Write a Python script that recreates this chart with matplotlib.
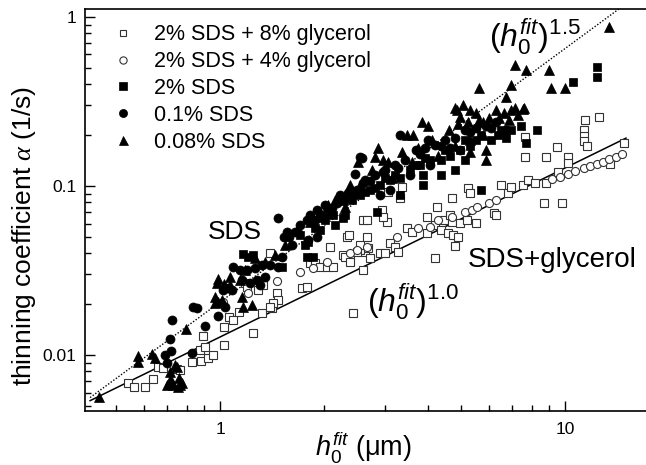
import matplotlib
matplotlib.use("Agg")
import matplotlib.pyplot as plt
import numpy as np

plt.rcParams['font.family'] = ['Liberation Sans', 'DejaVu Sans']
plt.rcParams['mathtext.fontset'] = 'custom'
plt.rcParams['mathtext.rm'] = 'Liberation Sans'
plt.rcParams['mathtext.it'] = 'Liberation Sans:italic'
plt.rcParams['mathtext.cal'] = 'Liberation Serif:italic'

# ---------------- data ----------------
labels = ["2% SDS + 8% glycerol", "2% SDS + 4% glycerol", "2% SDS", "0.1% SDS", "0.08% SDS"]

sq8_x = [0.541, 0.563, 0.606, 0.64, 0.661, 0.684, 0.751, 0.766, 0.83, 0.881, 0.923, 0.954, 0.875, 0.905,
         0.893, 1.027, 1.027, 1.062, 1.091, 1.135, 1.182, 1.246, 1.324, 1.415, 2.43, 1.396, 1.332, 1.289,
         1.197, 1.463, 1.473, 1.425, 1.729, 1.788, 1.824, 1.886, 1.95, 2.042, 2.125, 2.084, 2.334, 2.6,
         2.67, 2.633, 2.547, 2.272, 2.382, 1.396, 3.973, 4.201, 4.439, 4.705, 4.963, 5.206, 3.478, 3.594,
         3.973, 4.354, 4.561, 4.737, 4.898, 3.051, 2.366, 2.67, 2.547, 2.687, 2.495, 2.303, 2.382, 2.724,
         2.913, 3.011, 3.112, 3.216, 3.28, 4.201, 4.8, 2.6, 3.366, 3.323, 3.071, 4.705, 4.258, 5.241,
         5.313, 6.507, 6.827, 6.202, 4.642, 2.95, 2.97, 11.4, 12.5, 11.3, 11.3, 11.3, 11.6, 7.669, 9.48,
         7.669, 8.812, 10.2, 10.2, 13.5, 14.8, 6.968, 7.542, 7.796, 8.166, 8.812, 9.55, 8.652, 9.8,
         6.288, 5.499]
sq8_y = [0.00683, 0.00647, 0.00647, 0.00723, 0.00849, 0.00838, 0.00826, 0.00815, 0.0091, 0.00921, 0.0096,
         0.01, 0.0107, 0.0111, 0.0129, 0.0115, 0.0147, 0.0168, 0.0161, 0.018, 0.0267, 0.0135, 0.0177,
         0.019, 0.0177, 0.0401, 0.0259, 0.0242, 0.0252, 0.0233, 0.0211, 0.0203, 0.0248, 0.0252, 0.035,
         0.035, 0.0332, 0.0332, 0.0332, 0.0436, 0.0499, 0.0629, 0.0629, 0.0407, 0.0418, 0.0391, 0.0391,
         0.0192, 0.0656, 0.0588, 0.0629, 0.0612, 0.0604, 0.0629, 0.0564, 0.0535, 0.0527, 0.0549, 0.0527,
         0.0513, 0.0499, 0.0612, 0.0513, 0.0499, 0.0448, 0.043, 0.0407, 0.038, 0.0355, 0.0375, 0.0401,
         0.0401, 0.046, 0.0436, 0.0407, 0.0375, 0.0442, 0.0318, 0.0986, 0.0849, 0.0921, 0.0849, 0.0751,
         0.0973, 0.091, 0.101, 0.091, 0.0692, 0.0673, 0.0722, 0.0656, 0.246, 0.256, 0.215, 0.198, 0.185,
         0.172, 0.195, 0.17, 0.149, 0.149, 0.149, 0.137, 0.135, 0.18, 0.0986, 0.101, 0.109, 0.104, 0.104,
         0.121, 0.0793, 0.0793, 0.0673, 0.0604]

ci4_x = [1.02, 1.205, 1.463, 1.706, 1.861, 2.042, 2.382, 2.495, 2.67, 3.257, 3.741, 4.053, 4.29, 4.705,
         5.136, 5.386, 5.56, 5.998, 6.288, 9.18, 9.66, 10.2, 10.7, 11.3, 11.8, 12.4, 12.9, 13.4, 14.0, 14.6]
ci4_y = [0.0206, 0.0233, 0.0274, 0.031, 0.0327, 0.0355, 0.0401, 0.0418, 0.0436, 0.0499, 0.0564, 0.0572,
         0.0629, 0.0656, 0.0702, 0.0722, 0.0751, 0.0793, 0.0826, 0.11, 0.113, 0.118, 0.123, 0.128, 0.131,
         0.135, 0.139, 0.145, 0.149, 0.155]

fsq_x = [12.4, 12.4, 10.5, 8.261, 7.709, 6.734, 6.374, 3.868, 3.868, 3.323, 5.685, 2.855, 1.166, 1.205,
         1.246, 1.513, 1.788, 1.861, 1.8, 2.084, 2.125, 2.272, 1.95, 2.547, 2.724, 2.913, 3.112, 3.216,
         3.546, 3.791, 4.053, 4.354, 4.642, 4.963, 5.313, 5.499, 6.08, 6.507, 6.968, 7.46, 2.303, 2.155,
         1.95, 1.764, 4.354, 4.8, 5.136, 1.706, 1.886, 2.015, 2.414, 2.633, 2.816, 3.011, 3.323, 3.69,
         3.92, 4.49, 5.685, 5.136]
fsq_y = [0.506, 0.441, 0.412, 0.215, 0.18, 0.192, 0.2, 0.116, 0.101, 0.0885, 0.0947, 0.0702, 0.0396,
         0.038, 0.0391, 0.0332, 0.038, 0.038, 0.0466, 0.0702, 0.0673, 0.0647, 0.0647, 0.0885, 0.0947,
         0.101, 0.109, 0.116, 0.125, 0.133, 0.143, 0.143, 0.151, 0.163, 0.172, 0.187, 0.187, 0.215, 0.215,
         0.227, 0.0673, 0.0588, 0.0549, 0.0448, 0.116, 0.125, 0.143, 0.0513, 0.0564, 0.0629, 0.0826,
         0.0921, 0.0973, 0.112, 0.112, 0.133, 0.147, 0.163, 0.2, 0.187]

fci_x = [0.726, 0.835, 0.856, 0.716, 0.693, 0.721, 0.702, 0.905, 0.83, 0.987, 1.02, 1.083, 1.143, 1.034,
         1.055, 2.547, 2.461, 2.6, 2.495, 2.35, 2.287, 2.182, 2.111, 2.055, 1.911, 1.824, 1.788, 1.473,
         1.564, 1.533, 1.585, 1.617, 1.8, 1.911, 1.513, 1.396, 1.473, 1.324, 1.263, 1.197, 1.091, 1.158,
         1.222, 1.28, 1.35, 1.306, 2.582, 3.323, 3.999, 1.706, 1.886, 2.015, 2.227, 2.633, 2.816, 3.011,
         3.216, 3.432, 3.69, 3.92, 4.201, 4.49, 4.8, 5.136, 5.499, 5.879, 6.288, 2.913, 3.112, 3.546,
         4.053, 4.963, 1.649, 1.98, 2.43, 2.724, 2.97, 3.28, 3.791, 4.354, 4.642, 5.313, 6.08, 6.734]
fci_y = [0.0161, 0.0192, 0.019, 0.0124, 0.01, 0.0106, 0.00897, 0.0148, 0.0103, 0.017, 0.0242, 0.0242,
         0.0318, 0.0192, 0.0248, 0.149, 0.118, 0.104, 0.0947, 0.091, 0.0826, 0.0793, 0.0741, 0.0702,
         0.0722, 0.0673, 0.0629, 0.0647, 0.0535, 0.0499, 0.0499, 0.0448, 0.0479, 0.0499, 0.038, 0.0341,
         0.0332, 0.0341, 0.0327, 0.0318, 0.0332, 0.0278, 0.0267, 0.0278, 0.029, 0.0259, 0.147, 0.2, 0.187,
         0.0588, 0.0629, 0.0772, 0.0885, 0.109, 0.116, 0.125, 0.133, 0.143, 0.163, 0.168, 0.174, 0.187,
         0.192, 0.215, 0.22, 0.227, 0.239, 0.0885, 0.0947, 0.116, 0.133, 0.163, 0.0535, 0.0673, 0.0885,
         0.107, 0.121, 0.128, 0.155, 0.172, 0.168, 0.209, 0.22, 0.215]

tri_x = [0.446, 0.579, 0.579, 0.635, 0.648, 0.797, 0.716, 0.726, 0.761, 0.776, 0.741, 0.702, 0.731, 0.751,
         0.766, 0.756, 0.716, 0.987, 1.069, 1.027, 0.967, 0.967, 1.182, 1.238, 1.158, 1.166, 0.987, 1.013,
         0.98, 1.683, 2.51, 2.382, 13.4, 7.158, 7.709, 9.0, 5.611, 6.968, 9.12, 10.0, 6.734, 5.313, 6.288,
         6.968, 7.542, 5.879, 5.879, 5.313, 5.067, 5.499, 4.866, 3.842, 3.999, 3.478, 3.618, 2.873, 2.816,
         2.97, 2.272, 2.303, 4.963, 5.762, 6.644, 7.158, 7.6, 4.8, 1.95, 2.155, 2.547, 2.76, 3.071, 3.366,
         3.741, 4.11, 4.6, 4.898, 5.241, 5.611, 5.998, 6.42, 6.87, 7.3, 3.155, 3.594, 4.29, 4.8, 5.313,
         5.762, 1.35, 1.443, 1.069, 1.143, 1.263, 1.543, 1.824, 2.055]
tri_y = [0.00564, 0.00986, 0.0091, 0.0101, 0.0096, 0.0143, 0.00793, 0.00692, 0.00731, 0.00683, 0.00873,
         0.00664, 0.00664, 0.00849, 0.00664, 0.00647, 0.00711, 0.0282, 0.029, 0.0263, 0.022, 0.0203,
         0.0318, 0.0198, 0.022, 0.0192, 0.0206, 0.0211, 0.0267, 0.0564, 0.139, 0.101, 0.873, 0.52, 0.485,
         0.485, 0.38, 0.396, 0.38, 0.38, 0.336, 0.282, 0.282, 0.282, 0.285, 0.163, 0.143, 0.159, 0.301,
         0.27, 0.282, 0.239, 0.227, 0.2, 0.2, 0.168, 0.149, 0.143, 0.0826, 0.0751, 0.256, 0.239, 0.27,
         0.288, 0.288, 0.288, 0.0702, 0.0826, 0.101, 0.125, 0.139, 0.159, 0.168, 0.187, 0.215, 0.233,
         0.239, 0.246, 0.252, 0.252, 0.246, 0.263, 0.112, 0.139, 0.151, 0.172, 0.187, 0.2, 0.0355, 0.0391,
         0.0259, 0.0278, 0.0375, 0.0448, 0.0612, 0.0772]

# power-law guide lines
fit_exponents = [1.0, 1.5]
fit_prefactors = [0.0128, 0.0206]
fit_x_range = [0.42, 15.0]

# ---------------- figure ----------------
fig = plt.figure(figsize=(6.46, 4.65), dpi=100)
ax = fig.add_axes([85 / 646, 54 / 465, 570 / 646, 402 / 465])
ax.set_xscale('log')
ax.set_yscale('log')
ax.set_xlim(0.406, 18.2)
ax.set_ylim(0.00467, 1.114)

xl = np.logspace(np.log10(fit_x_range[0]), np.log10(fit_x_range[1]), 100)
ax.plot(xl, fit_prefactors[0] * xl ** fit_exponents[0], color='black', lw=1.1, zorder=1)
xd = np.logspace(np.log10(fit_x_range[0]), np.log10(16.0), 100)
ax.plot(xd, fit_prefactors[1] * xd ** fit_exponents[1], color='black', lw=1.0, ls=(0, (1, 1.3)), zorder=1)

ax.plot(sq8_x, sq8_y, ls='none', marker='s', ms=5.3, mfc='white', mec='#333333', mew=0.8,
        label=labels[0], zorder=3)
ax.plot(ci4_x, ci4_y, ls='none', marker='o', ms=5.8, mfc='white', mec='#333333', mew=0.8,
        label=labels[1], zorder=3)
ax.plot(fsq_x, fsq_y, ls='none', marker='s', ms=5.8, mfc='black', mec='black', mew=0.5,
        label=labels[2], zorder=4)
ax.plot(fci_x, fci_y, ls='none', marker='o', ms=6.5, mfc='black', mec='black', mew=0.5,
        label=labels[3], zorder=4)
ax.plot(tri_x, tri_y, ls='none', marker='^', ms=7.2, mfc='black', mec='black', mew=0.5,
        label=labels[4], zorder=4)

leg = ax.legend(loc='upper left', bbox_to_anchor=(0.048, 0.962), frameon=False, fontsize=15.5,
                borderpad=0, borderaxespad=0, handlelength=1.0, handletextpad=0.95,
                labelspacing=0.27, markerscale=0.9)

# ticks
ax.tick_params(which='both', direction='in', top=False, right=False, width=1.0)
ax.tick_params(which='major', length=7, labelsize=12.5, pad=6)
ax.tick_params(which='minor', length=4)
ax.tick_params(axis='x', which='major', pad=8)
ax.xaxis.set_major_formatter(matplotlib.ticker.FuncFormatter(lambda v, p: f"{v:g}"))
ax.yaxis.set_major_formatter(matplotlib.ticker.FuncFormatter(lambda v, p: f"{v:g}"))
for s in ax.spines.values():
    s.set_linewidth(1.2)
ax.spines['right'].set_visible(False)

ax.set_xlabel(r'$h_0^{fit}$ ($\mathrm{\mu}$m)', fontsize=19.5, va='top')
ax.xaxis.set_label_coords(0.489, -0.044)
ax.set_ylabel(r'thinning coefficient $\mathcal{\alpha}$ (1/s)', fontsize=19, va='bottom')
ax.yaxis.set_label_coords(-0.083, 0.435)

# annotations
ax.text(0.263, 0.445, 'SDS', transform=ax.transAxes, fontsize=19, ha='center', va='center')
ax.text(0.968, 0.376, 'SDS+glycerol', transform=ax.transAxes, fontsize=20, ha='right', va='center')
ax.text(0.79, 0.93, r'$(h_0^{fit})^{1.5}$', transform=ax.transAxes, fontsize=23, ha='center', va='center')
ax.text(0.575, 0.272, r'$(h_0^{fit})^{1.0}$', transform=ax.transAxes, fontsize=23, ha='center', va='center')

fig.savefig('out.png', dpi=100)
